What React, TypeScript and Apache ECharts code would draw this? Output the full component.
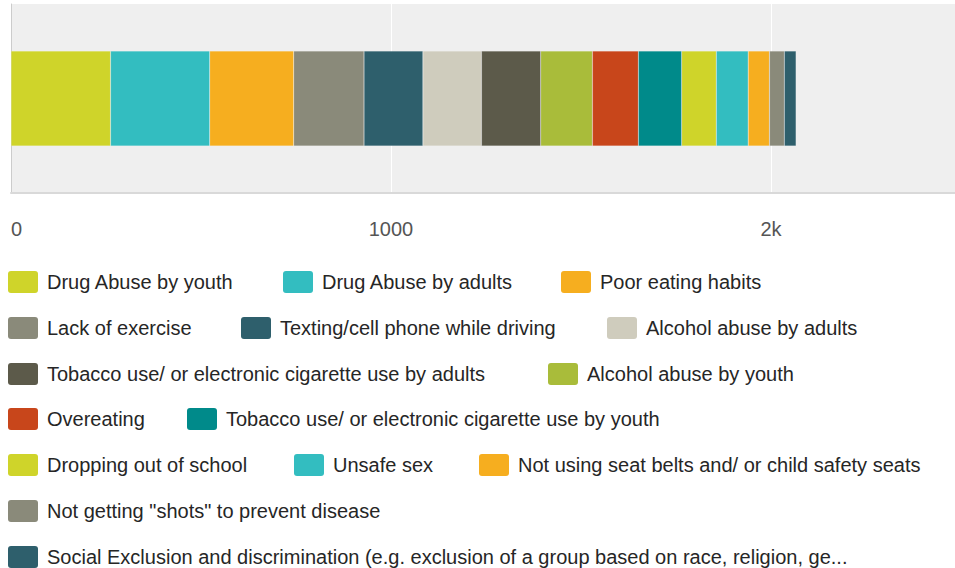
import React, { useEffect, useRef } from "react";
import * as echarts from "echarts";

const categories = [""];
const seriesNames = [
  "Drug Abuse by youth",
  "Drug Abuse by adults",
  "Poor eating habits",
  "Lack of exercise",
  "Texting/cell phone while driving",
  "Alcohol abuse by adults",
  "Tobacco use/ or electronic cigarette use by adults",
  "Alcohol abuse by youth",
  "Overeating",
  "Tobacco use/ or electronic cigarette use by youth",
  "Dropping out of school",
  "Unsafe sex",
  "Not using seat belts and/ or child safety seats",
  'Not getting "shots" to prevent disease',
  "Social Exclusion and discrimination (e.g. exclusion of a group based on race, religion, ge...",
];
const seriesValues = [262, 261, 221, 185, 155, 154, 156, 136, 121, 114, 91, 84, 56, 39, 31];
const seriesColors = [
  "#cfd42a", "#33bdc0", "#f6ae1f", "#8a8a7a", "#2e5f6c",
  "#cfccbd", "#5c5a4a", "#a9bc3a", "#c8461b", "#008a8a",
  "#cfd42a", "#33bdc0", "#f6ae1f", "#8a8a7a", "#2e5f6c",
];
const tickValues = [0, 1000, 2000];
const tickLabels = ["0", "1000", "2k"];

// legend layout (positions, not data)
const legendRows = [[0, 1, 2], [3, 4, 5], [6, 7], [8, 9], [10, 11, 12], [13], [14]];
const legendRowTops = [271, 317, 363, 408, 454, 500, 546];
const legendRowLefts = [[8, 283, 561], [8, 241, 607], [8, 548], [8, 187], [8, 294, 479], [8], [8]];

const FONT = "'Liberation Sans', Arial, sans-serif";
const ICON = "path://M3,0 H27 A3,3 0 0 1 30,3 V19 A3,3 0 0 1 27,22 H3 A3,3 0 0 1 0,19 V3 A3,3 0 0 1 3,0 Z";

export default function App() {
  const ref = useRef<HTMLDivElement>(null);
  useEffect(() => {
    if (!ref.current) return;
    const chart = echarts.init(ref.current, null, { renderer: "svg" });
    const legends: any[] = [];
    legendRows.forEach((row, r) => {
      row.forEach((idx, k) => {
        legends.push({
          data: [seriesNames[idx]],
          left: legendRowLefts[r][k],
          top: legendRowTops[r],
          orient: "horizontal",
          padding: 0,
          itemWidth: 30,
          itemHeight: 22,
          itemGap: 0,
          icon: ICON,
          selectedMode: false,
          itemStyle: { borderWidth: 0 },
          textStyle: { fontSize: 20, color: "#262626", fontFamily: FONT, padding: [0, 0, 0, 4] },
        });
      });
    });
    chart.setOption({
      animation: false,
      backgroundColor: "#ffffff",
      textStyle: { fontFamily: FONT },
      color: seriesColors,
      grid: {
        left: 11,
        top: 4,
        width: 950,
        height: 189,
        show: true,
        backgroundColor: "#efefef",
        borderWidth: 0,
      },
      xAxis: {
        type: "value",
        min: 0,
        max: 2500,
        interval: 1000,
        axisLine: { show: true, lineStyle: { color: "#d9d9d9", width: 2 } },
        axisTick: { show: false },
        splitLine: { show: true, lineStyle: { color: "#ffffff", width: 1 } },
        axisLabel: {
          margin: 26,
          fontSize: 20,
          color: "#555555",
          fontFamily: FONT,
          alignMinLabel: "left",
          formatter: (v: number) => {
            const i = tickValues.indexOf(v);
            return i >= 0 ? tickLabels[i] : "";
          },
        },
      },
      yAxis: {
        type: "category",
        data: categories,
        axisLine: { show: true, lineStyle: { color: "#cccccc", width: 1 } },
        axisTick: { show: false },
        axisLabel: { show: false },
        splitLine: { show: false },
      },
      legend: legends,
      series: seriesNames.map((name, i) => ({
        name,
        type: "bar",
        stack: "total",
        barWidth: 95,
        itemStyle: {
          color: seriesColors[i],
          borderColor: "rgba(255,255,255,0.3)",
          borderWidth: 0.5,
        },
        data: [seriesValues[i]],
      })),
    });
    return () => chart.dispose();
  }, []);
  return (
    <div
      style={{ position: "absolute", left: 0, top: 0, width: 955, height: 568, overflow: "hidden" }}
    >
      <div ref={ref} style={{ width: 975, height: 568 }} />
    </div>
  );
}
